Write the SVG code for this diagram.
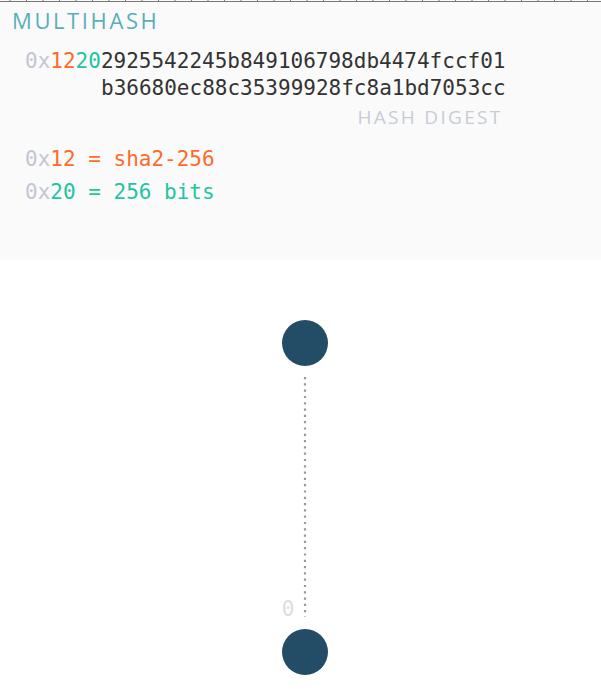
<svg xmlns="http://www.w3.org/2000/svg" width="601" height="699" viewBox="0 0 601 699">
<style>
.mono{font-family:"DejaVu Sans Mono","Liberation Mono",monospace;font-size:21px}
.sans{font-family:"Open Sans","Liberation Sans",sans-serif}
.g{fill:#c3c6d3}.o{fill:#ff6a2a}.t{fill:#22c5a0}.d{fill:#333}
.node{fill:#234d66}
</style>
<rect x="0" y="0" width="601" height="699" fill="#ffffff"/>
<rect x="0" y="0" width="601" height="260" fill="#fafafa"/>
<g id="ruler" stroke="#777" stroke-width="1">
<line x1="0" y1="1.5" x2="601" y2="1.5"/>
<path d="M10 0v2M26.5 0v2M43 0v2M59.5 0v2M76 0v2M92.5 0v2M109 0v2M125.5 0v2M142 0v2M158.5 0v2M175 0v2M191.5 0v2M208 0v2M224.5 0v2M241 0v2M257.5 0v2M274 0v2M290.5 0v2M307 0v2M323.5 0v2M340 0v2M356.5 0v2M373 0v2M389.5 0v2M406 0v2M422.5 0v2M439 0v2M455.5 0v2M472 0v2M488.5 0v2M505 0v2M521.5 0v2M538 0v2M554.5 0v2M571 0v2M587.5 0v2"/>
</g>
<g id="multihash">
<text class="sans" x="12" y="29" font-size="22" letter-spacing="2.6" fill="#5aaeba">MULTIHASH</text>
<text class="mono" x="25" y="68"><tspan class="g">0x</tspan><tspan class="o">12</tspan><tspan class="t">20</tspan><tspan class="d">2925542245b849106798db4474fccf01</tspan></text>
<text class="mono d" x="101" y="95">b36680ec88c35399928fc8a1bd7053cc</text>
<text class="sans" x="502.5" y="124" font-size="19" letter-spacing="2.3" text-anchor="end" fill="#c8ccd6">HASH DIGEST</text>
<text class="mono" x="25" y="166"><tspan class="g">0x</tspan><tspan class="o">12 = sha2-256</tspan></text>
<text class="mono" x="25" y="199"><tspan class="g">0x</tspan><tspan class="t">20 = 256 bits</tspan></text>
</g>
<g id="connectors">
<line x1="305" y1="377" x2="305" y2="617" stroke="#999" stroke-width="2.2" stroke-dasharray="2.2 4.1"/>
<text class="mono" x="288" y="616" font-size="26" text-anchor="middle" fill="#dddddd">0</text>
</g>
<g id="node-top"><circle class="node" cx="305" cy="343" r="23"/></g>
<g id="node-bottom"><circle class="node" cx="305" cy="652" r="23"/></g>
</svg>
